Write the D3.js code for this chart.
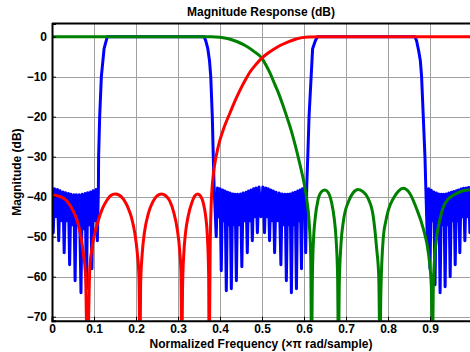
<!DOCTYPE html>
<html>
<head>
<meta charset="utf-8">
<script src="https://cdn.jsdelivr.net/npm/d3@7"></script>
<style>
  html, body { margin: 0; padding: 0; background: #fff; }
  svg text { font-family: "Liberation Sans", Arial, sans-serif; font-weight: bold; fill: #000; }
</style>
</head>
<body>
<svg id="chart" width="470" height="352"></svg>
<script>
// ---------- data: [normalized freq, dB] ----------
const xTicks = [0, 0.1, 0.2, 0.3, 0.4, 0.5, 0.6, 0.7, 0.8, 0.9];
const yTicks = [0, -10, -20, -30, -40, -50, -60, -70];

// bandpass filter (blue)
const blueResp = [
  [0, -37.8], [0.003, -49], [0.006, -38], [0.0095, -45], [0.013, -38.2], [0.016, -51], [0.019, -38.5],
  [0.0225, -46], [0.026, -38.8], [0.029, -54], [0.032, -39], [0.0355, -46], [0.039, -39.2], [0.042, -57],
  [0.045, -39.4], [0.0485, -47], [0.052, -39.5], [0.055, -61], [0.058, -39.5], [0.0615, -47], [0.065, -39.5],
  [0.069, -64], [0.072, -39.4], [0.0755, -48], [0.079, -39.2], [0.082, -63], [0.085, -39], [0.0885, -47],
  [0.092, -38.8], [0.095, -58], [0.098, -38.5], [0.1015, -46], [0.105, -38.2], [0.108, -51], [0.1105, -37.8],
  [0.111, -30], [0.1135, -20], [0.1175, -10], [0.124, -3], [0.1317, 0],
  [0.362, 0], [0.366, -1], [0.371, -3], [0.375, -6], [0.378, -10], [0.3817, -20], [0.384, -30], [0.386, -37.5],
  [0.391, -50], [0.394, -37.8], [0.397, -45], [0.4, -38], [0.403, -58.5], [0.406, -38.3], [0.409, -46],
  [0.412, -38.6], [0.415, -63.5], [0.418, -38.9], [0.421, -47], [0.424, -39.1], [0.427, -63], [0.43, -39.3],
  [0.433, -47], [0.436, -39.4], [0.439, -61], [0.442, -39.4], [0.4455, -47], [0.449, -39.3], [0.452, -57.5],
  [0.455, -39.1], [0.4585, -46], [0.462, -38.9], [0.465, -54], [0.468, -38.6], [0.471, -46], [0.474, -38.3],
  [0.477, -51], [0.48, -38], [0.483, -45], [0.486, -37.8], [0.489, -49], [0.493, -37.6], [0.4975, -45],
  [0.502, -37.6], [0.506, -49], [0.509, -37.8], [0.512, -45], [0.515, -38], [0.518, -51], [0.521, -38.3],
  [0.524, -46], [0.527, -38.6], [0.53, -54], [0.5335, -38.9], [0.5375, -46], [0.541, -39.1], [0.545, -57],
  [0.548, -39.3], [0.5515, -47], [0.555, -39.4], [0.558, -61], [0.561, -39.4], [0.564, -47], [0.567, -39.3],
  [0.57, -64], [0.573, -39.1], [0.576, -47], [0.579, -38.9], [0.582, -63], [0.585, -38.6], [0.588, -46],
  [0.591, -38.3], [0.594, -58], [0.5965, -38], [0.599, -45], [0.6015, -37.8], [0.604, -54], [0.6065, -37.5],
  [0.609, -30], [0.612, -20], [0.617, -10], [0.6205, -3], [0.627, -1], [0.632, 0],
  [0.864, 0], [0.868, -1], [0.873, -3.5], [0.877, -6], [0.88, -10], [0.884, -20], [0.888, -30], [0.89, -37.5],
  [0.894, -52], [0.897, -38], [0.9, -58], [0.903, -38.4], [0.906, -46], [0.909, -38.8], [0.912, -62],
  [0.915, -39.1], [0.918, -47], [0.921, -39.3], [0.924, -64], [0.927, -39.4], [0.93, -47], [0.933, -39.4],
  [0.936, -62.5], [0.939, -39.3], [0.942, -47], [0.945, -39.1], [0.948, -60], [0.951, -38.9], [0.954, -46],
  [0.957, -38.7], [0.96, -57], [0.963, -38.5], [0.966, -46], [0.968, -38.3], [0.971, -54], [0.974, -38.1],
  [0.977, -45], [0.98, -37.9], [0.983, -51], [0.986, -37.8], [0.989, -45], [0.992, -37.7], [0.995, -49],
  [0.998, -37.6], [1, -40]
];

// lowpass filter (green)
const greenResp = [
  [0, 0], [0.38, 0], [0.4, -0.15], [0.42, -0.5], [0.44, -1.2], [0.46, -2.2], [0.48, -3.6], [0.5, -5.4],
  [0.51, -7.2], [0.52, -9.3], [0.53, -11.8], [0.54, -14.3], [0.55, -17.2], [0.56, -20.3], [0.57, -23.6],
  [0.58, -27.5], [0.59, -31.8], [0.6, -36.5], [0.607, -41], [0.612, -46], [0.616, -55], [0.618, -80],
  [0.62, -60], [0.623, -50], [0.626, -46], [0.634, -40.5], [0.642, -38.7], [0.65, -38.3], [0.658, -39],
  [0.666, -41.6], [0.672, -45.5], [0.676, -50], [0.68, -60], [0.682, -80],
  [0.684, -62], [0.688, -52], [0.694, -46], [0.706, -41.2], [0.717, -39], [0.729, -38.2], [0.741, -38.8],
  [0.753, -40.5], [0.765, -45], [0.773, -53], [0.778, -60], [0.781, -80],
  [0.783, -64], [0.789, -50], [0.795, -46], [0.801, -43.3], [0.813, -40.4], [0.825, -38.6], [0.836, -37.9],
  [0.852, -39.2], [0.868, -43], [0.884, -48], [0.896, -54], [0.903, -62], [0.906, -80],
  [0.908, -62], [0.912, -54], [0.916, -50], [0.924, -45.5], [0.932, -42.5], [0.944, -40.5], [0.956, -39.6],
  [0.979, -38.5], [1, -38.2]
];

// highpass filter (red)
const redResp = [
  [0, -39.5], [0.02, -40], [0.035, -41], [0.05, -43.5], [0.06, -46], [0.068, -49.5], [0.075, -54.5],
  [0.08, -60], [0.084, -80],
  [0.086, -75], [0.09, -58], [0.095, -53], [0.1, -50], [0.11, -46], [0.12, -43], [0.13, -41], [0.14, -39.7],
  [0.15, -39.3], [0.16, -39.6], [0.17, -40.6], [0.18, -42.5], [0.19, -45.5], [0.197, -49], [0.203, -54],
  [0.207, -60], [0.2095, -80],
  [0.211, -62], [0.215, -54], [0.22, -49], [0.23, -44], [0.24, -41.3], [0.25, -39.8], [0.261, -39.3],
  [0.27, -39.7], [0.28, -41], [0.29, -44], [0.298, -48], [0.304, -53.5], [0.307, -59], [0.309, -80],
  [0.311, -62], [0.314, -54], [0.318, -49], [0.325, -44.5], [0.333, -41.5], [0.34, -39.8], [0.347, -39.3],
  [0.354, -39.9], [0.36, -41.5], [0.366, -45], [0.37, -50], [0.373, -60], [0.374, -80],
  [0.377, -50], [0.379, -42], [0.381, -38], [0.384, -34.5], [0.388, -31.5], [0.394, -28.3], [0.4, -25.8],
  [0.41, -22.6], [0.424, -19], [0.436, -16], [0.448, -13.3], [0.46, -10.9], [0.471, -8.9], [0.485, -7],
  [0.499, -5.4], [0.513, -4.2], [0.527, -3.2], [0.543, -2.2], [0.56, -1.4], [0.583, -0.5],
  [0.61, -0.1], [0.64, 0], [1, 0]
];

const series = [
  { name: "bandpass", color: "#0000ff", values: blueResp, curve: d3.curveLinear },
  { name: "lowpass", color: "#008000", values: greenResp, curve: d3.curveMonotoneX },
  { name: "highpass", color: "#ff0000", values: redResp, curve: d3.curveMonotoneX }
];

// ---------- layout ----------
const svg = d3.select("#chart");
const plotL = 52, plotT = 23.5, plotR = 472, plotB = 320.7;

const x = d3.scaleLinear().domain([0, 1]).range([plotL, plotR]);
const y = d3.scaleLinear().domain([-71, 3.3]).range([plotB, plotT]);

svg.append("defs").append("clipPath").attr("id", "plotClip")
  .append("rect").attr("x", plotL).attr("y", plotT).attr("width", plotR - plotL).attr("height", plotB - plotT);

// grid
const grid = svg.append("g").attr("stroke", "#a0a0a0").attr("stroke-width", 1);
grid.selectAll("line.v").data(xTicks.slice(1)).enter().append("line")
  .attr("x1", d => Math.round(x(d)) + 0.5).attr("x2", d => Math.round(x(d)) + 0.5)
  .attr("y1", plotT).attr("y2", plotB);
grid.selectAll("line.h").data(yTicks).enter().append("line")
  .attr("x1", plotL).attr("x2", plotR)
  .attr("y1", d => Math.round(y(d)) + 0.5).attr("y2", d => Math.round(y(d)) + 0.5);

// curves
svg.append("g").attr("clip-path", "url(#plotClip)")
  .selectAll("path").data(series).enter().append("path")
  .attr("d", d => d3.line().curve(d.curve).x(p => x(p[0])).y(p => y(p[1]))(d.values))
  .attr("fill", "none")
  .attr("stroke", d => d.color)
  .attr("stroke-width", 3)
  .attr("stroke-linejoin", "round");

// axes box
const xAxis = d3.axisBottom(x).tickValues(xTicks).tickSize(-4).tickPadding(4)
  .tickFormat(d => d === 0 ? "0" : d3.format(".1f")(d));
const yAxis = d3.axisLeft(y).tickValues(yTicks).tickSize(-4).tickPadding(5).tickFormat(d3.format("d"));

const gx = svg.append("g").attr("transform", `translate(0,${plotB})`).call(xAxis);
const gy = svg.append("g").attr("transform", `translate(${plotL},0)`).call(yAxis);
[gx, gy].forEach(g => {
  g.selectAll(".domain").attr("stroke", "#000").attr("stroke-width", 2);
  g.selectAll(".tick line").attr("stroke", "#000");
  g.selectAll(".tick text").attr("font-size", 12).attr("font-weight", "bold")
    .attr("font-family", "Liberation Sans, Arial, sans-serif").attr("fill", "#000");
});
svg.append("line").attr("x1", plotL).attr("x2", plotR).attr("y1", plotT).attr("y2", plotT)
  .attr("stroke", "#000").attr("stroke-width", 2);

// labels
svg.append("text").attr("x", 261).attr("y", 16).attr("text-anchor", "middle")
  .attr("font-size", 12).text("Magnitude Response (dB)");
svg.append("text").attr("x", 261).attr("y", 348).attr("text-anchor", "middle")
  .attr("font-size", 12).text("Normalized Frequency (\u00d7\u03c0 rad/sample)");
svg.append("text").attr("transform", `translate(21,${(plotT + plotB) / 2}) rotate(-90)`)
  .attr("text-anchor", "middle").attr("font-size", 12).text("Magnitude (dB)");
</script>
</body>
</html>
